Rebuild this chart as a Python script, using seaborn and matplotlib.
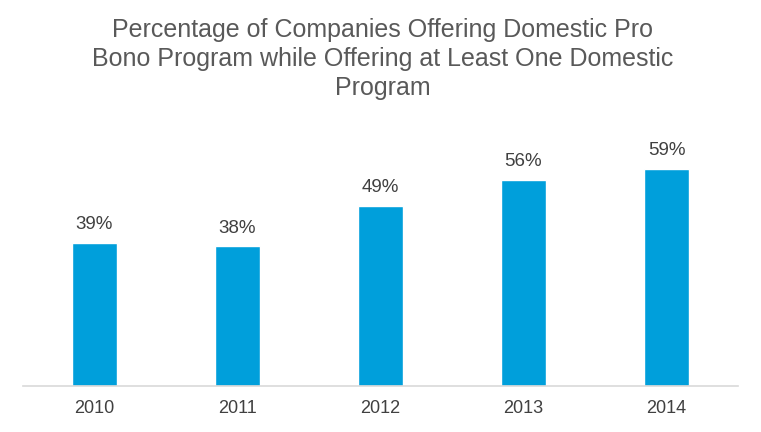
import seaborn as sns
import matplotlib.pyplot as plt
import pandas as pd

years = ["2010", "2011", "2012", "2013", "2014"]
pct = [39, 38, 49, 56, 59]
title = ("Percentage of Companies Offering Domestic Pro\n"
         "Bono Program while Offering at Least One Domestic\n"
         "Program")

sns.set_style("white")
plt.rcParams['font.family'] = ['Liberation Sans', 'DejaVu Sans']

df = pd.DataFrame({"year": years, "pct": pct})

fig = plt.figure(figsize=(7.61, 4.32), dpi=100)
# baseline at ~386px, ~3.67 px per percent
ax = fig.add_axes([23 / 761, 46 / 432, 715 / 761, 257 / 432])
sns.barplot(data=df, x="year", y="pct", color="#009FDB", saturation=1,
            width=0.31, ax=ax)

ax.set_xlim(-0.5, 4.5)
ax.set_ylim(0, 70)
for i, v in enumerate(pct):
    ax.text(i, v + 2.7, "{0}%".format(v), ha="center", va="bottom",
            fontsize=13.5, color="#404040")

ax.set_xlabel("")
ax.set_ylabel("")
ax.set_yticks([])
ax.tick_params(axis="x", length=0, labelsize=13, labelcolor="#404040", pad=10)
for s in ["left", "right", "top"]:
    ax.spines[s].set_visible(False)
ax.spines["bottom"].set_color("#D9D9D9")
ax.spines["bottom"].set_linewidth(1.2)

fig.text(383 / 761, 1 - 59 / 432, title, ha="center", va="center",
         fontsize=18, color="#595959", linespacing=1.28)

fig.savefig("out.png", dpi=100)
